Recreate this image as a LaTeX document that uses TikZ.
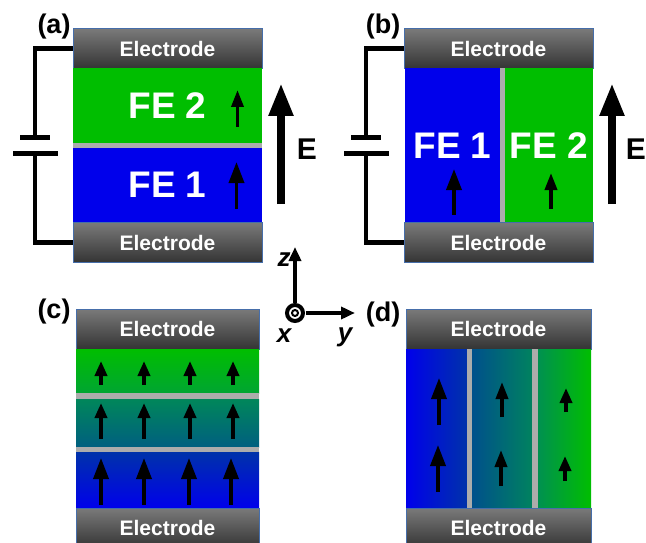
\documentclass[tikz,border=0pt]{standalone}
\usepackage{fontspec}
\setmainfont{Liberation Sans}
\usepackage{tikz}
\usetikzlibrary{arrows.meta,positioning}
\definecolor{fegreen}{RGB}{0,190,0}
\definecolor{feblue}{RGB}{0,0,235}
\definecolor{fegray}{RGB}{172,172,172}
\definecolor{eltop}{RGB}{122,122,122}
\definecolor{elbottom}{RGB}{52,52,52}
\definecolor{elborder}{RGB}{70,110,170}
\tikzstyle{electrode} = [rectangle, minimum height=40pt, inner sep=0pt, outer sep=0pt, draw=elborder, line width=0.8pt, top color=eltop, bottom color=elbottom, text=white, font=\fontsize{21}{21}\selectfont\bfseries]
\tikzstyle{layer} = [rectangle, inner sep=0pt, outer sep=0pt, text=white, font=\fontsize{37}{37}\selectfont\bfseries]
\tikzstyle{spacer} = [rectangle, inner sep=0pt, outer sep=0pt, fill=fegray]
\tikzstyle{plate} = [rectangle, inner sep=0pt, outer sep=0pt, minimum height=5pt, fill=black]
\tikzstyle{wire} = [line width=4.5pt]
\tikzstyle{panel} = [inner sep=0pt, font=\fontsize{27}{27}\selectfont\bfseries]
\tikzstyle{fieldarrow} = [line width=8pt,-{Triangle[length=33pt,width=23pt]}]
\tikzstyle{axis} = [line width=3.5pt,-{Triangle[length=14pt,width=12pt]}]
\tikzstyle{axislabel} = [inner sep=0pt, font=\fontsize{26}{26}\selectfont\bfseries\itshape]
\tikzstyle{pollarge} = [line width=3.6pt,-{Triangle[length=21pt,width=15pt]}]
\tikzstyle{polmid} = [line width=3.6pt,-{Triangle[length=17pt,width=12pt]}]
\tikzstyle{polsmall} = [line width=3.6pt,-{Triangle[length=15pt,width=12pt]}]
\newcommand{\polar}[5]{
\coordinate (tail#1) at (#2,#3);
\coordinate (tip#1) at (#2,#4);
\draw[#5] (tail#1) -- (tip#1);
}

\begin{document}
\begin{tikzpicture}[x=1pt, y=-1pt]
\clip (0,0) rectangle (646,543);

% Panel (a)
\node (etopa) [electrode, minimum width=189pt] at (167.5,48.5) {Electrode};
\node (fetwoa) [layer, fill=fegreen, minimum width=189pt, minimum height=74pt, below=0pt of etopa] {FE 2};
\node (gapa) [spacer, minimum width=189pt, minimum height=5pt, below=0pt of fetwoa] {};
\node (feonea) [layer, fill=feblue, minimum width=189pt, minimum height=75pt, below=0pt of gapa] {FE 1};
\node (ebota) [electrode, minimum width=189pt, below=0pt of feonea] {Electrode};
\polar{aone}{236.5}{209}{162}{pollarge}
\polar{atwo}{237.5}{127}{90}{polmid}

% Panel (b)
\node (etopb) [electrode, minimum width=189pt] at (498.5,48.5) {Electrode};
\node (feoneb) [layer, fill=feblue, minimum width=95pt, minimum height=154pt] at (452.5,145.5) {FE 1};
\node (gapb) [spacer, minimum width=5pt, minimum height=154pt, right=0pt of feoneb] {};
\node (fetwob) [layer, fill=fegreen, minimum width=88pt, minimum height=154pt, right=0pt of gapb] {FE 2};
\node (ebotb) [electrode, minimum width=189pt] at (498.5,242.5) {Electrode};
\polar{bone}{454}{215}{169}{pollarge}
\polar{btwo}{551}{209}{173}{polmid}

% Battery and field
\foreach \p/\x/\ex/\lx in {a/35/281/307, b/366/612/636}{
\node (short\p) [plate, minimum width=30pt] at (\x,137) {};
\node (long\p) [plate, minimum width=45pt] at (\x,153) {};
\draw[wire] (etop\p.west) -| (short\p.north);
\draw[wire] (ebot\p.west) -| (long\p.south);
\coordinate (ftail\p) at (\ex,204);
\coordinate (ftip\p) at (\ex,83);
\draw[fieldarrow] (ftail\p) -- (ftip\p);
\node (elabel\p) [inner sep=0pt, font=\fontsize{30}{30}\selectfont\bfseries] at (\lx,149) {E};
}

% Panel (c)
\node (etopc) [electrode, minimum width=183pt] at (167.5,329) {Electrode};
\node (topc) [layer, top color=fegreen, bottom color={rgb,255:red,0;green,165;blue,50}, minimum width=183pt, minimum height=44pt, below=0pt of etopc] {};
\node (gaponec) [spacer, minimum width=183pt, minimum height=6pt, below=0pt of topc] {};
\node (midc) [layer, top color={rgb,255:red,0;green,135;blue,90}, bottom color={rgb,255:red,0;green,95;blue,128}, minimum width=183pt, minimum height=48pt, below=0pt of gaponec] {};
\node (gaptwoc) [spacer, minimum width=183pt, minimum height=5pt, below=0pt of midc] {};
\node (botc) [layer, top color={rgb,255:red,0;green,50;blue,170}, bottom color=feblue, minimum width=183pt, minimum height=56pt, below=0pt of gaptwoc] {};
\node (ebotc) [electrode, minimum width=183pt, below=0pt of botc] {Electrode};
\foreach \n/\x in {1/101,2/144,3/190,4/233}{
\polar{ctop\n}{\x}{385}{361}{polsmall}
\polar{cmid\n}{\x}{439}{403}{polsmall}
}
\foreach \n/\x in {1/101,2/144,3/189,4/231}{
\polar{cbot\n}{\x}{505}{458}{pollarge}
}

% Panel (d)
\node (etopd) [electrode, minimum width=185pt] at (498.5,329) {Electrode};
\node (leftd) [layer, left color=feblue, right color={rgb,255:red,0;green,50;blue,170}, minimum width=61pt, minimum height=159pt] at (436.5,428.5) {};
\node (gaponed) [spacer, minimum width=5pt, minimum height=159pt, right=0pt of leftd] {};
\node (midd) [layer, left color={rgb,255:red,0;green,80;blue,140}, right color={rgb,255:red,0;green,130;blue,95}, minimum width=60pt, minimum height=159pt, right=0pt of gaponed] {};
\node (gaptwod) [spacer, minimum width=6pt, minimum height=159pt, right=0pt of midd] {};
\node (rightd) [layer, left color={rgb,255:red,0;green,145;blue,80}, right color=fegreen, minimum width=53pt, minimum height=159pt, right=0pt of gaptwod] {};
\node (ebotd) [electrode, minimum width=185pt] at (498.5,528) {Electrode};
\polar{done}{439}{425}{378}{pollarge}
\polar{dtwo}{438}{492}{445}{pollarge}
\polar{dthree}{502}{417}{382}{polmid}
\polar{dfour}{501}{486}{450}{polmid}
\polar{dfive}{566}{412}{388}{polsmall}
\polar{dsix}{565}{481}{456}{polsmall}

% Axes
\coordinate (ztip) at (295,247);
\coordinate (ytip) at (355,313);
\node (origin) [circle, line width=4pt, minimum size=17pt, inner sep=0pt] at (295,313) {};
\draw[axis] (origin) -- (ztip);
\draw[axis] (origin) -- (ytip);
\node (origincirc) [circle, draw, line width=4pt, minimum size=16pt, inner sep=0pt, fill=white] at (origin) {};
\node (origindot) [circle, draw, line width=2pt, minimum size=6pt, inner sep=0pt] at (origin) {};
\node (zlabel) [axislabel] at (284,260) {z};
\node (xlabel) [axislabel] at (284,336) {x};
\node (ylabel) [axislabel] at (345,337) {y};

% Labels
\node (labela) [panel] at (54,27) {(a)};
\node (labelb) [panel] at (383,27) {(b)};
\node (labelc) [panel] at (54,312) {(c)};
\node (labeld) [panel] at (383,315) {(d)};
\end{tikzpicture}
\end{document}
